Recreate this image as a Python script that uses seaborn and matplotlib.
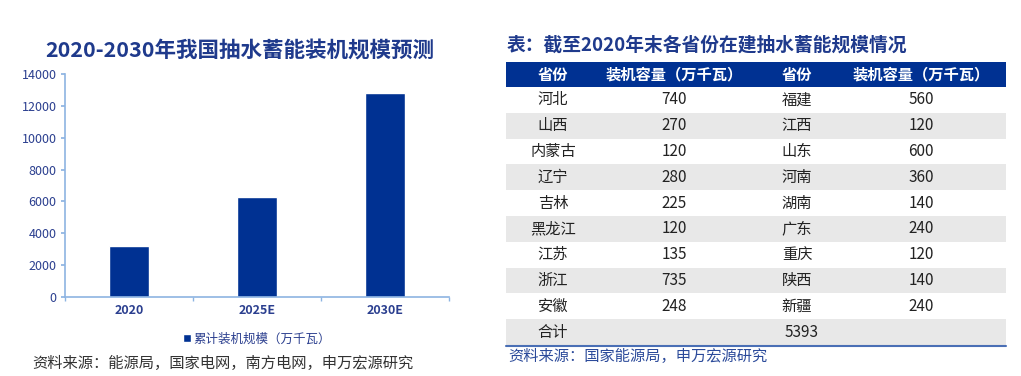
import matplotlib
matplotlib.use('Agg')
import matplotlib.pyplot as plt
import seaborn as sns
import pandas as pd
from matplotlib.patches import Rectangle

# bar chart data
years = ['2020', '2025E', '2030E']
capacity = [3220, 6260, 12780]
legend_label = '累计装机规模（万千瓦）'

# table data
header = ['省份', '装机容量（万千瓦）', '省份', '装机容量（万千瓦）']
prov_left = ['河北', '山西', '内蒙古', '辽宁', '吉林', '黑龙江', '江苏', '浙江', '安徽']
cap_left = [740, 270, 120, 280, 225, 120, 135, 735, 248]
prov_right = ['福建', '江西', '山东', '河南', '湖南', '广东', '重庆', '陕西', '新疆']
cap_right = [560, 120, 600, 360, 140, 240, 120, 140, 240]
total_label = '合计'
total_value = 5393

sns.set_theme(style='white')
plt.rcParams['font.family'] = ['Noto Sans CJK SC', 'DejaVu Sans']

navy = '#003192'
title_blue = '#1f3a8c'
axis_blue = '#8db4e2'
tick_blue = '#2b3f8f'

fig = plt.figure(figsize=(10.21, 3.76), dpi=100)
W, H = 1021, 376

def fx(px):
    return px / W

def fy(py):
    return 1 - py / H

# ---- left: bar chart ----
ax = fig.add_axes([fx(65), fy(297), fx(449) - fx(65), fy(74) - fy(297)])
df = pd.DataFrame({'year': years, 'cap': capacity})
sns.barplot(data=df, x='year', y='cap', color=navy, width=0.31, ax=ax,
            saturation=1, label=legend_label)
ax.set_ylim(0, 14000)
ax.set_yticks(range(0, 14001, 2000))
ax.set_xlabel('')
ax.set_ylabel('')
for s in ['top', 'right']:
    ax.spines[s].set_visible(False)
for s in ['left', 'bottom']:
    ax.spines[s].set_color(axis_blue)
    ax.spines[s].set_linewidth(1.2)
ax.set_xticks([-0.5, 0.5, 1.5, 2.5], minor=True)
ax.set_xlim(-0.5, 2.5)
ax.tick_params(axis='x', which='minor', length=3, color=axis_blue, direction='out', bottom=True)
ax.tick_params(axis='x', which='major', length=0, pad=5, labelsize=9, labelcolor=tick_blue)
ax.tick_params(axis='y', length=3, color=axis_blue, direction='out', left=True,
               labelsize=9, labelcolor=tick_blue, pad=3)
for lab in ax.get_xticklabels():
    lab.set_fontweight('bold')
ax.legend(loc='upper center', bbox_to_anchor=(0.5, -0.11), frameon=False,
          fontsize=9, handlelength=0.6, handleheight=0.6, handletextpad=0.2,
          labelcolor=tick_blue)

fig.text(fx(240), fy(50), '2020-2030年我国抽水蓄能装机规模预测', ha='center', va='center',
         fontsize=15.5, fontweight='bold', color=title_blue)
fig.text(fx(32), fy(363), '资料来源：能源局，国家电网，南方电网，申万宏源研究', ha='left',
         va='center', fontsize=11, color='#333333')

# ---- right: table ----
tx = fig.add_axes([fx(490), 0, fx(1021) - fx(490), 1])
tx.set_xlim(490, 1021)
tx.set_ylim(376, 0)
tx.axis('off')

left, right = 506, 1006
col_x = [553, 674, 797, 921]
row_h = 25.8
top = 62
head_h = 25

tx.add_patch(Rectangle((left, top), right - left, head_h, color=navy, lw=0))
for x, t in zip(col_x, header):
    tx.text(x, top + head_h / 2, t, ha='center', va='center', color='white',
            fontsize=11, fontweight='bold')

y0 = top + head_h
for i in range(len(prov_left)):
    y = y0 + i * row_h
    if i % 2 == 1:
        tx.add_patch(Rectangle((left, y), right - left, row_h, color='#e8e8e8', lw=0))
    vals = [prov_left[i], cap_left[i], prov_right[i], cap_right[i]]
    for x, v in zip(col_x, vals):
        tx.text(x, y + row_h / 2, str(v), ha='center', va='center', color='#222222',
                fontsize=11)

y = y0 + len(prov_left) * row_h
tx.add_patch(Rectangle((left, y), right - left, row_h, color='#e8e8e8', lw=0))
tx.text(col_x[0], y + row_h / 2, total_label, ha='center', va='center', color='#222222', fontsize=11)
tx.text(802, y + row_h / 2, str(total_value), ha='center', va='center', color='#222222', fontsize=11)
tx.plot([left, right], [y + row_h + 1, y + row_h + 1], color='#4a6fb5', lw=1.5)

fig.text(fx(507), fy(45), '表：截至2020年末各省份在建抽水蓄能规模情况', ha='left', va='center',
         fontsize=13.5, fontweight='bold', color=title_blue)
fig.text(fx(508), fy(356), '资料来源：国家能源局，申万宏源研究', ha='left', va='center',
         fontsize=11, color='#2b4a9a')

fig.savefig('out.png', dpi=100)
